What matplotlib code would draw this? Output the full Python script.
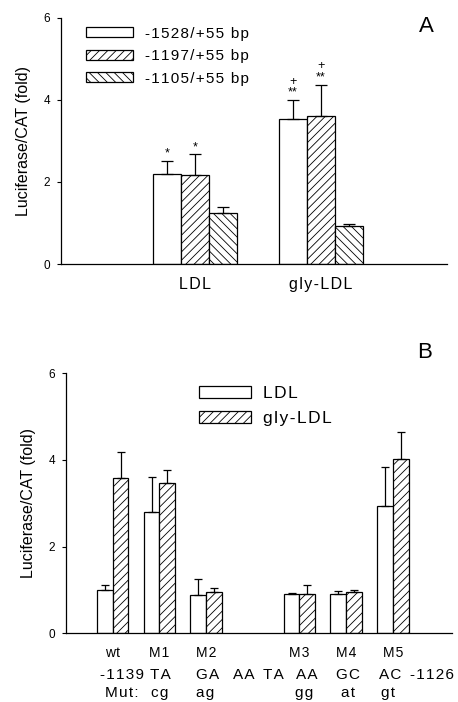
import numpy as np
import matplotlib
matplotlib.use("Agg")
import matplotlib.pyplot as plt
import matplotlib.transforms as mtransforms

plt.rcParams["font.family"] = ["Liberation Sans", "DejaVu Sans"]
plt.rcParams["hatch.linewidth"] = 0.6

# panel A: promoter constructs, treated with LDL or gly-LDL
groups_a = ["LDL", "gly-LDL"]
constructs = ["-1528/+55 bp", "-1197/+55 bp", "-1105/+55 bp"]
vals_a = [[2.20, 3.53], [2.17, 3.60], [1.24, 0.92]]
errs_a = [[0.30, 0.47], [0.50, 0.77], [0.14, 0.06]]
marks_a = [["*", "+\n**"], ["*", "+\n**"], ["", ""]]

# panel B: mutants
mutants = ["wt", "M1", "M2", "M3", "M4", "M5"]
pos_b = [0, 1, 2, 4, 5, 6]
ldl_b = [0.99, 2.81, 0.88, 0.91, 0.90, 2.94]
ldl_err = [0.13, 0.80, 0.37, 0.01, 0.08, 0.89]
gly_b = [3.58, 3.48, 0.96, 0.90, 0.96, 4.03]
gly_err = [0.60, 0.30, 0.09, 0.21, 0.04, 0.61]
seq_labels = ["-1139", "TA", "GA", "AA", "TA", "AA", "GC", "AC", "-1126"]
seq_x = [0.2, 1.03, 2.04, 2.8, 3.45, 4.15, 5.05, 5.95, 6.84]
mut_labels = ["Mut:", "cg", "ag", "gg", "at", "gt"]
mut_x = [0.2, 1.0, 1.98, 4.1, 5.05, 5.9]

hatches_a = ["", "////", "\\\\\\\\"]
hatches_b = ["", "////"]


def spaced(s):
    # the original uses wide letter spacing
    return "\u200a".join(s)


fig = plt.figure(figsize=(4.58, 7.02), dpi=100)


def style_axes(ax):
    ax.spines["top"].set_visible(False)
    ax.spines["right"].set_visible(False)
    ax.spines["left"].set_linewidth(0.9)
    ax.spines["bottom"].set_linewidth(0.9)
    ax.set_ylim(0, 6)
    ax.set_yticks([0, 2, 4, 6])
    ax.tick_params(axis="y", direction="out", length=3, width=0.8, labelsize=8.5, pad=5)
    ax.set_ylabel("Luciferase/CAT (fold)", fontsize=11.5, labelpad=9)


# ---- A ----
ax = fig.add_axes([0.1332, 0.6239, 0.8428, 0.3511])
style_axes(ax)
w = 0.222
xa = np.arange(len(groups_a))
for i, lab in enumerate(constructs):
    xs = xa + (i - 1) * w
    ax.bar(xs, vals_a[i], w, color="white", edgecolor="black", linewidth=0.9,
           hatch=hatches_a[i], label=spaced(lab), zorder=2)
    ax.errorbar(xs, vals_a[i], yerr=[np.zeros(2), errs_a[i]], fmt="none",
                ecolor="black", elinewidth=0.9, capsize=4, capthick=0.9, zorder=3)
    for j in range(len(groups_a)):
        if marks_a[i][j]:
            ax.annotate(marks_a[i][j], (xs[j], vals_a[i][j] + errs_a[i][j]),
                        xytext=(0, 1), textcoords="offset points", ha="center",
                        va="bottom", fontsize=9, linespacing=0.85)
ax.set_xlim(-1.06, 2.0)
ax.set_xticks(xa)
ax.set_xticklabels([spaced(g) for g in groups_a], fontsize=11.5)
ax.tick_params(axis="x", length=0, pad=9)
ax.legend(loc="upper left", bbox_to_anchor=(0.057, 0.975), frameon=False,
          fontsize=11, handlelength=3.1, handleheight=0.65, labelspacing=0.55,
          handletextpad=0.75, borderaxespad=0.2, borderpad=0)
ax.text(0.946, 0.965, "A", transform=ax.transAxes, fontsize=16, ha="center", va="center")

# ---- B ----
bx = fig.add_axes([0.1441, 0.0979, 0.8421, 0.3703])
style_axes(bx)
wb = 0.336
xb = np.array(pos_b)
for i, (vals, errs, lab) in enumerate([(ldl_b, ldl_err, "LDL"), (gly_b, gly_err, "gly-LDL")]):
    xs = xb + (i - 0.5) * wb
    bx.bar(xs, vals, wb, color="white", edgecolor="black", linewidth=0.9,
           hatch=hatches_b[i], label=spaced(lab), zorder=2)
    bx.errorbar(xs, vals, yerr=[np.zeros(len(vals)), errs], fmt="none",
                ecolor="black", elinewidth=0.9, capsize=3, capthick=0.9, zorder=3)
bx.set_xlim(-1.0, 7.26)
bx.set_xticks(xb)
bx.set_xticklabels([spaced(m) for m in mutants], fontsize=10)
bx.tick_params(axis="x", length=0, pad=9)
trans = mtransforms.blended_transform_factory(bx.transData, fig.transFigure)
for x, s in zip(seq_x, seq_labels):
    fig.text(x, 1 - 675 / 702, spaced(s), transform=trans, ha="center", va="center", fontsize=11)
for x, s in zip(mut_x, mut_labels):
    fig.text(x, 1 - 693 / 702, spaced(s), transform=trans, ha="center", va="center", fontsize=11)
bx.legend(loc="upper left", bbox_to_anchor=(0.335, 0.965), frameon=False,
          fontsize=12.5, handlelength=3.0, handleheight=0.65, labelspacing=0.6,
          handletextpad=0.7, borderaxespad=0.2, borderpad=0)
fig.text(425 / 458, 1 - 353 / 702, "B", fontsize=16, ha="center", va="center")

fig.savefig("out.png", dpi=100)
